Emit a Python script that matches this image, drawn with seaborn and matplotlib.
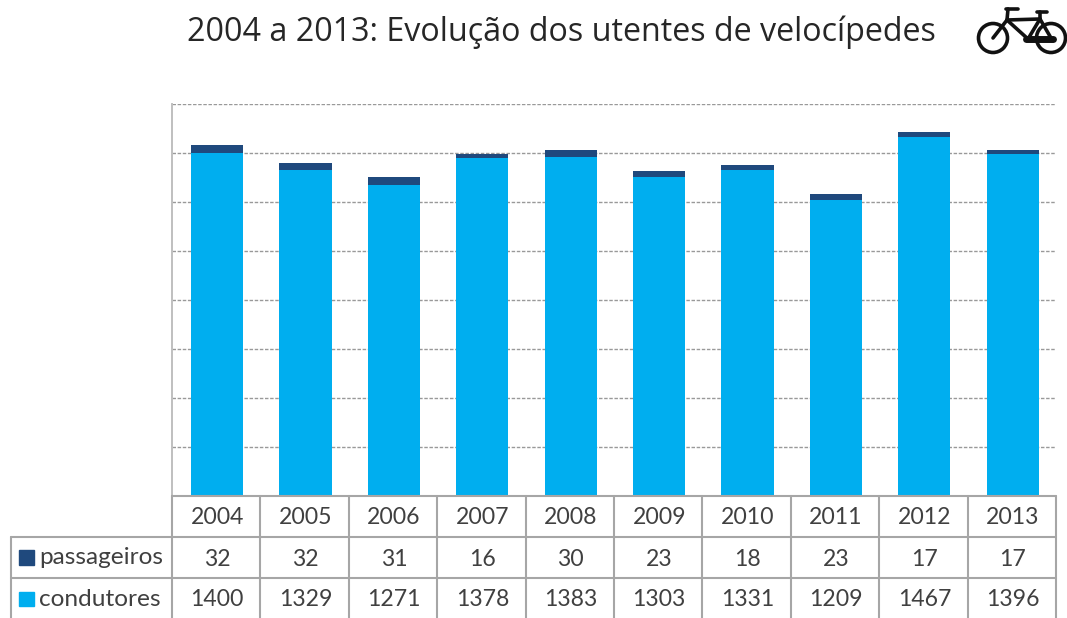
import matplotlib
matplotlib.use("Agg")
import matplotlib.pyplot as plt
from matplotlib.patches import Circle, Rectangle
import seaborn as sns

anos = ["2004", "2005", "2006", "2007", "2008", "2009", "2010", "2011", "2012", "2013"]
passageiros = [32, 32, 31, 16, 30, 23, 18, 23, 17, 17]
condutores = [1400, 1329, 1271, 1378, 1383, 1303, 1331, 1209, 1467, 1396]
titulo = "2004 a 2013: Evolução dos utentes de velocípedes"

COR_COND = "#00AEEF"
COR_PASS = "#1F497D"
COR_LINHA = "#A6A6A6"
COR_TEXTO = "#404040"
W, H = 1067, 618

sns.set_theme(style="white")
plt.rcParams["font.family"] = ["Open Sans", "DejaVu Sans"]

fig = plt.figure(figsize=(W / 100, H / 100), dpi=100)
# area of the plot, in pixels of the picture
left, right, top, bottom = 172, 1056, 104, 496
ax = fig.add_axes([left / W, 1 - bottom / H, (right - left) / W, (bottom - top) / H])

sns.barplot(x=anos, y=condutores, color=COR_COND, saturation=1, width=0.59, linewidth=0, ax=ax, zorder=3)
sns.barplot(x=anos, y=passageiros, bottom=condutores, color=COR_PASS, saturation=1, width=0.59, linewidth=0, ax=ax, zorder=3)

ax.set_xlim(-0.51, 9.49)
ax.set_ylim(0, 1600)
ax.set_yticks(range(0, 1601, 200))
ax.set_xticks([])
ax.set_yticklabels([])
ax.set_xlabel("")
ax.set_ylabel("")
ax.tick_params(left=False, bottom=False)
ax.grid(axis="y", color="#999999", linestyle=(0, (2.5, 1.2)), linewidth=1.0, zorder=0)
ax.set_axisbelow(True)
for s in ["top", "right", "bottom"]:
    ax.spines[s].set_visible(False)
ax.spines["left"].set_color("#BFBFBF")
ax.spines["left"].set_linewidth(1.4)

# overlay in picture pixels for title, table and bicycle
ov = fig.add_axes([0, 0, 1, 1], zorder=5)
ov.set_xlim(0, W)
ov.set_ylim(H, 0)
ov.axis("off")
ov.patch.set_alpha(0)

ov.text(561, 32.5, titulo, ha="center", va="center", fontsize=23.2, color="#262626")

# data table
col_w = (right - left) / len(anos)
linhas_y = [496, 537, 578]
tab_left = 11
for y in linhas_y:
    x0 = tab_left if y > 496 else left
    ov.plot([x0, right], [y, y], color=COR_LINHA, lw=1.5)
for i in range(len(anos) + 1):
    x = left + i * col_w
    ov.plot([x, x], [496, 618], color=COR_LINHA, lw=1.5)
ov.plot([tab_left, tab_left], [537, 618], color=COR_LINHA, lw=1.5)

font_tab = dict(ha="center", va="center", fontsize=16.6, color=COR_TEXTO, family=["Lato", "DejaVu Sans"])
for i, ano in enumerate(anos):
    xc = left + (i + 0.5) * col_w + 1
    ov.text(xc, 517, ano, **font_tab)
    ov.text(xc, 559, str(passageiros[i]), **font_tab)
    ov.text(xc, 600, str(condutores[i]), **font_tab)

ov.add_patch(Rectangle((19, 550), 15, 15, color=COR_PASS))
ov.add_patch(Rectangle((19, 592), 15, 14, color=COR_COND))
font_leg = dict(ha="left", va="center", fontsize=17.6, color=COR_TEXTO, family=["Lato", "DejaVu Sans"])
ov.text(39, 558, "passageiros", **font_leg)
ov.text(39, 600, "condutores", **font_leg)

# bicycle icon
for cx in (993, 1051):
    ov.add_patch(Circle((cx, 38), 14.5, fill=False, ec="#111111", lw=2.6))
quadro = [[(993, 38), (1007, 20)], [(1007, 20), (1040, 19)], [(1007, 20), (1028, 39)],
          [(1040, 19), (1028, 39)], [(1040, 19), (1051, 38)], [(1006, 9), (1018, 9)],
          [(1007, 20), (1008, 9)], [(1037, 12), (1047, 12)], [(1040, 19), (1040, 12)]]
for a, b in quadro:
    ov.plot([a[0], b[0]], [a[1], b[1]], color="#111111", lw=2.6, solid_capstyle="round")
ov.plot([1026, 1053], [39, 39], color="#111111", lw=5, solid_capstyle="round")

fig.savefig("out.png", dpi=100, facecolor="white")
